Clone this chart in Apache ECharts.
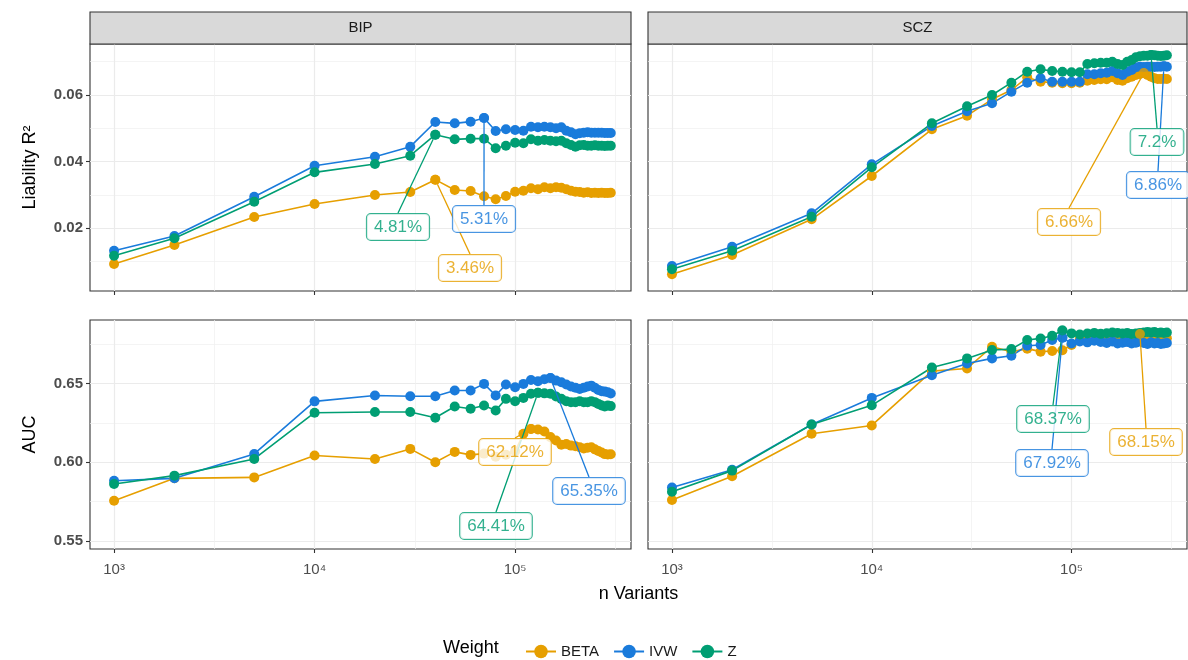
<!DOCTYPE html>
<html><head><meta charset="utf-8">
<script src="https://cdn.jsdelivr.net/npm/echarts@6/dist/echarts.min.js"></script>
<style>html,body{margin:0;padding:0;background:#fff}#c{width:1188px;height:660px}</style>
</head><body><div id="c"></div>
<script>
// ---------------- data ----------------
const nVariants = [1000, 2000, 5000, 10000, 20000, 30000, 40000, 50000, 60000, 70000, 80000, 90000, 100000,
  110000, 120000, 130000, 140000, 150000, 160000, 170000, 180000, 190000, 200000,
  210000, 220000, 230000, 240000, 250000, 260000, 270000, 280000, 290000, 300000];

const bipR2Beta = [0.0093, 0.0150, 0.0234, 0.0273, 0.0300, 0.0309, 0.0346, 0.0315, 0.0312, 0.0296, 0.0287, 0.0297, 0.0310,
  0.0313, 0.0320, 0.0317, 0.0323, 0.0320, 0.0323, 0.0322, 0.0317, 0.0313, 0.0310, 0.0309, 0.0307, 0.0308, 0.0306, 0.0307, 0.0306, 0.0307, 0.0306, 0.0306, 0.0307];
const bipR2Ivw = [0.0133, 0.0177, 0.0295, 0.0388, 0.0415, 0.0445, 0.0519, 0.0515, 0.0520, 0.0531, 0.0492, 0.0497, 0.0495,
  0.0493, 0.0505, 0.0503, 0.0505, 0.0503, 0.0500, 0.0503, 0.0493, 0.0488, 0.0482, 0.0485, 0.0487, 0.0488, 0.0487, 0.0487, 0.0487, 0.0487, 0.0486, 0.0486, 0.0486];
const bipR2Z = [0.0118, 0.0170, 0.0280, 0.0368, 0.0393, 0.0418, 0.0481, 0.0467, 0.0469, 0.0469, 0.0440, 0.0448, 0.0457,
  0.0455, 0.0467, 0.0463, 0.0465, 0.0463, 0.0461, 0.0463, 0.0455, 0.0450, 0.0445, 0.0449, 0.0450, 0.0448, 0.0448, 0.0449, 0.0448, 0.0448, 0.0447, 0.0448, 0.0448];

const sczR2Beta = [0.0062, 0.0120, 0.0227, 0.0357, 0.0497, 0.0538, 0.0587, 0.0615, 0.0653, 0.0640, 0.0637, 0.0635, 0.0635,
  0.0637, 0.0643, 0.0645, 0.0647, 0.0647, 0.0653, 0.0645, 0.0643, 0.0650, 0.0655, 0.0660, 0.0663, 0.0666, 0.0660, 0.0655, 0.0650, 0.0648, 0.0648, 0.0649, 0.0648];
const sczR2Ivw = [0.0087, 0.0145, 0.0245, 0.0392, 0.0507, 0.0551, 0.0575, 0.0610, 0.0637, 0.0650, 0.0640, 0.0640, 0.0640,
  0.0640, 0.0662, 0.0662, 0.0665, 0.0667, 0.0672, 0.0665, 0.0660, 0.0670, 0.0675, 0.0683, 0.0685, 0.0684, 0.0685, 0.0685, 0.0684, 0.0685, 0.0685, 0.0686, 0.0685];
const sczR2Z = [0.0077, 0.0133, 0.0235, 0.0383, 0.0515, 0.0566, 0.0600, 0.0637, 0.0670, 0.0677, 0.0672, 0.0670, 0.0668,
  0.0668, 0.0693, 0.0695, 0.0697, 0.0697, 0.0700, 0.0693, 0.0690, 0.0700, 0.0705, 0.0713, 0.0716, 0.0718, 0.0718, 0.0720, 0.0719, 0.0718, 0.0717, 0.0718, 0.0719];

const bipAucBeta = [0.5755, 0.5898, 0.5904, 0.6043, 0.6021, 0.6085, 0.6000, 0.6066, 0.6047, 0.6055, 0.6035, 0.6048, 0.6070,
  0.6181, 0.6212, 0.6208, 0.6195, 0.6160, 0.6138, 0.6112, 0.6116, 0.6106, 0.6102, 0.6095, 0.6088, 0.6092, 0.6096, 0.6082, 0.6072, 0.6062, 0.6052, 0.6050, 0.6051];
const bipAucIvw = [0.5883, 0.5898, 0.6053, 0.6387, 0.6424, 0.6420, 0.6420, 0.6456, 0.6456, 0.6498, 0.6424, 0.6494, 0.6477,
  0.6498, 0.6523, 0.6515, 0.6528, 0.6535, 0.6519, 0.6508, 0.6494, 0.6481, 0.6473, 0.6466, 0.6473, 0.6481, 0.6487, 0.6473, 0.6460, 0.6451, 0.6449, 0.6445, 0.6437];
const bipAucZ = [0.5862, 0.5915, 0.6021, 0.6315, 0.6319, 0.6319, 0.6283, 0.6354, 0.6340, 0.6361, 0.6329, 0.6403, 0.6388,
  0.6409, 0.6435, 0.6441, 0.6438, 0.6435, 0.6418, 0.6403, 0.6388, 0.6382, 0.6382, 0.6388, 0.6382, 0.6382, 0.6388, 0.6382, 0.6371, 0.6361, 0.6354, 0.6361, 0.6357];

const sczAucBeta = [0.5760, 0.5911, 0.6181, 0.6234, 0.6579, 0.6596, 0.6734, 0.6702, 0.6722, 0.6703, 0.6707, 0.6712, 0.6745,
  0.6785, 0.6790, 0.6778, 0.6795, 0.6788, 0.6780, 0.6792, 0.6785, 0.6790, 0.6782, 0.6795, 0.6815, 0.6792, 0.6788, 0.6785, 0.6790, 0.6782, 0.6786, 0.6784, 0.6788];
const sczAucIvw = [0.5840, 0.5953, 0.6240, 0.6409, 0.6553, 0.6628, 0.6660, 0.6677, 0.6740, 0.6745, 0.6777, 0.6792, 0.6755,
  0.6768, 0.6762, 0.6772, 0.6765, 0.6758, 0.6768, 0.6755, 0.6760, 0.6765, 0.6755, 0.6760, 0.6768, 0.6758, 0.6752, 0.6762, 0.6755, 0.6758, 0.6752, 0.6755, 0.6758];
const sczAucZ = [0.5813, 0.5947, 0.6240, 0.6362, 0.6602, 0.6660, 0.6713, 0.6719, 0.6777, 0.6787, 0.6804, 0.6837, 0.6819,
  0.6812, 0.6818, 0.6822, 0.6816, 0.6820, 0.6825, 0.6822, 0.6818, 0.6822, 0.6815, 0.6818, 0.6822, 0.6825, 0.6828, 0.6825, 0.6828, 0.6822, 0.6825, 0.6822, 0.6825];

const weights = ['BETA', 'IVW', 'Z'];
const studies = ['BIP', 'SCZ'];
const xTickValues = [1000, 10000, 100000];
const yTicksR2 = [0.02, 0.04, 0.06];
const yTicksAuc = [0.55, 0.60, 0.65];

// ---------------- styling / layout ----------------
const FONT = '"Liberation Sans", Arial, sans-serif';
const colors = { BETA: '#E69F00', IVW: '#1A7BDB', Z: '#009E73' };
const XMIN = Math.pow(10, 2.88), XMAX = Math.pow(10, 5.578);
const xMinor = [Math.pow(10, 3.5), Math.pow(10, 4.5), Math.pow(10, 5.5)];
const yMinorR2 = [0.01, 0.03, 0.05, 0.07];
const yMinorAuc = [0.575, 0.625, 0.675];
const rowR2 = { top: 44, height: 247, min: 0.0012, max: 0.0753, ticks: yTicksR2, minor: yMinorR2, dec: 2 };
const rowAuc = { top: 320, height: 229, min: 0.5449, max: 0.6904, ticks: yTicksAuc, minor: yMinorAuc, dec: 2 };
const cols = [{ left: 90, width: 541 }, { left: 648, width: 539 }];

const panels = [
  { col: 0, row: rowR2, data: { BETA: bipR2Beta, IVW: bipR2Ivw, Z: bipR2Z } },
  { col: 1, row: rowR2, data: { BETA: sczR2Beta, IVW: sczR2Ivw, Z: sczR2Z } },
  { col: 0, row: rowAuc, data: { BETA: bipAucBeta, IVW: bipAucIvw, Z: bipAucZ } },
  { col: 1, row: rowAuc, data: { BETA: sczAucBeta, IVW: sczAucIvw, Z: sczAucZ } }
];
// label box centres (layout only)
const labelPos = {
  '0-Z': [398, 227], '0-IVW': [484, 219], '0-BETA': [470, 268],
  '1-BETA': [1069, 222], '1-Z': [1157, 142], '1-IVW': [1158, 185],
  '2-BETA': [515, 452], '2-IVW': [589, 491], '2-Z': [496, 526],
  '3-Z': [1053, 419], '3-IVW': [1052, 463], '3-BETA': [1146, 442]
};
const sup = { 3: '\u00B3', 4: '\u2074', 5: '\u2075' };
const pct = v => parseFloat((v * 100).toFixed(2)) + '%';

const grids = [], xAxes = [], yAxes = [], series = [];
panels.forEach((p, i) => {
  const c = cols[p.col];
  grids.push({ left: c.left, top: p.row.top, width: c.width, height: p.row.height,
    show: true, borderColor: '#333333', borderWidth: 1.1, backgroundColor: 'transparent', containLabel: false });
});
// main axes
panels.forEach((p, i) => {
  xAxes.push({ type: 'log', logBase: 10, gridIndex: i, min: XMIN, max: XMAX,
    axisLine: { show: false },
    axisTick: { show: true, length: 4, lineStyle: { color: '#333333', width: 1.1 }, customValues: xTickValues },
    axisLabel: { show: i >= 2, customValues: xTickValues, color: '#4D4D4D', fontSize: 15, margin: 13, fontFamily: FONT,
      formatter: v => '10' + sup[Math.round(Math.log10(v))] },
    splitLine: { show: true, lineStyle: { color: '#EBEBEB', width: 1.2 } } });
  yAxes.push({ type: 'value', gridIndex: i, min: p.row.min, max: p.row.max,
    axisLine: { show: false },
    axisTick: { show: p.col === 0, length: 4, lineStyle: { color: '#333333', width: 1.1 }, customValues: p.row.ticks },
    axisLabel: { show: p.col === 0, customValues: p.row.ticks, color: '#4D4D4D', fontSize: 15, fontWeight: 'bold', margin: 7, fontFamily: FONT,
      formatter: v => v.toFixed(p.row.dec) },
    splitLine: { show: true, lineStyle: { color: '#EBEBEB', width: 1.2 } } });
});
// minor gridline axes
panels.forEach((p, i) => {
  xAxes.push({ type: 'log', logBase: 10, gridIndex: i, min: XMIN, max: XMAX,
    axisLine: { show: false }, axisTick: { show: false, customValues: xMinor }, axisLabel: { show: false, customValues: xMinor },
    splitLine: { show: true, lineStyle: { color: '#EFEFEF', width: 0.7 } } });
  yAxes.push({ type: 'value', gridIndex: i, min: p.row.min, max: p.row.max,
    axisLine: { show: false }, axisTick: { show: false, customValues: p.row.minor }, axisLabel: { show: false, customValues: p.row.minor },
    splitLine: { show: true, lineStyle: { color: '#EFEFEF', width: 0.7 } } });
});
// lines + points
panels.forEach((p, i) => {
  weights.forEach(w => {
    const ys = p.data[w];
    series.push({ type: 'line', name: w, xAxisIndex: i, yAxisIndex: i,
      data: nVariants.map((n, k) => [n, ys[k]]),
      symbol: 'circle', symbolSize: 10, showAllSymbol: true, showSymbol: true,
      lineStyle: { width: 1.6, color: colors[w] }, itemStyle: { color: colors[w] },
      emphasis: { disabled: true }, z: 2 });
  });
});
// max labels (repel-style boxes)
panels.forEach((p, i) => {
  weights.forEach(w => {
    const ys = p.data[w];
    let im = 0; ys.forEach((v, k) => { if (v > ys[im]) im = k; });
    const pos = labelPos[i + '-' + w];
    series.push({ type: 'scatter', name: 'lbl-' + i + '-' + w, xAxisIndex: i, yAxisIndex: i,
      data: [[nVariants[im], ys[im]]], symbol: 'circle', symbolSize: 10, itemStyle: { color: colors[w] },
      silent: true, z: 6, emphasis: { disabled: true },
      label: { show: true, formatter: q => pct(q.value[1]), color: colors[w], fontSize: 17, fontFamily: FONT,
        backgroundColor: '#FFFFFF', borderColor: colors[w], borderWidth: 1, borderRadius: 4, padding: [5, 7, 4, 7] },
      labelLine: { show: true, smooth: false, lineStyle: { color: colors[w], width: 1.3 } },
      labelLayout: () => ({ x: pos[0], y: pos[1], align: 'center', verticalAlign: 'middle' }) });
  });
});

const graphics = [];
studies.forEach((s, j) => {
  const c = cols[j];
  graphics.push({ type: 'rect', shape: { x: c.left, y: 12, width: c.width, height: 32 },
    style: { fill: '#D9D9D9', stroke: '#333333', lineWidth: 1.1 }, z: 10 });
  graphics.push({ type: 'text', x: c.left + c.width / 2, y: 28,
    style: { text: s, fill: '#1A1A1A', fontSize: 15, fontFamily: FONT, textAlign: 'center', textVerticalAlign: 'middle' }, z: 11 });
});
graphics.push({ type: 'text', x: 30, y: rowR2.top + rowR2.height / 2, rotation: Math.PI / 2,
  style: { text: 'Liability R\u00B2', fill: '#000', fontSize: 18, fontFamily: FONT, textAlign: 'center', textVerticalAlign: 'middle' } });
graphics.push({ type: 'text', x: 30, y: rowAuc.top + rowAuc.height / 2, rotation: Math.PI / 2,
  style: { text: 'AUC', fill: '#000', fontSize: 18, fontFamily: FONT, textAlign: 'center', textVerticalAlign: 'middle' } });
graphics.push({ type: 'text', x: (cols[0].left + cols[1].left + cols[1].width) / 2, y: 594,
  style: { text: 'n Variants', fill: '#000', fontSize: 18, fontFamily: FONT, textAlign: 'center', textVerticalAlign: 'middle' } });
graphics.push({ type: 'text', x: 443, y: 648,
  style: { text: 'Weight', fill: '#000', fontSize: 18, fontFamily: FONT, textAlign: 'left', textVerticalAlign: 'middle' } });

const chart = echarts.init(document.getElementById('c'), null, { renderer: 'canvas' });
chart.setOption({
  animation: false,
  backgroundColor: '#FFFFFF',
  textStyle: { fontFamily: FONT },
  grid: grids, xAxis: xAxes, yAxis: yAxes, series: series,
  legend: { data: weights, left: 520, top: 639, itemWidth: 30, itemHeight: 17, itemGap: 14,
    textStyle: { fontSize: 15, color: '#1A1A1A', fontFamily: FONT }, selectedMode: false },
  graphic: graphics
});
</script></body></html>
